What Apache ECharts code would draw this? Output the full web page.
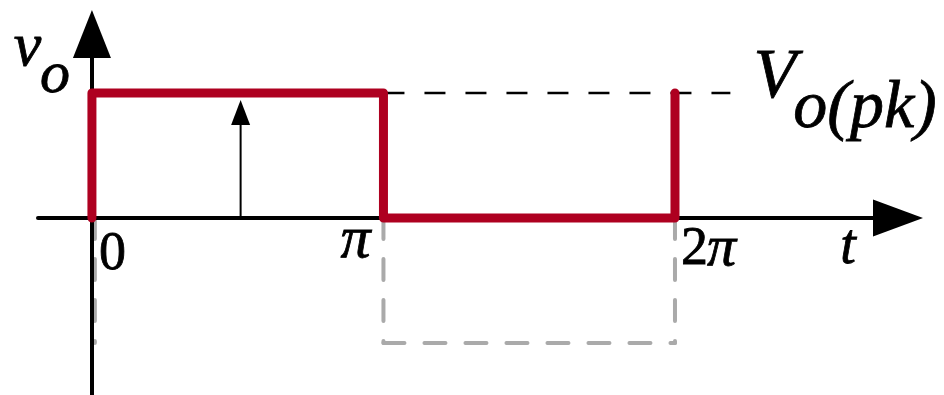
<!DOCTYPE html>
<html>
<head>
<meta charset="utf-8">
<script src="https://cdn.jsdelivr.net/npm/echarts@6/dist/echarts.min.js"></script>
<style>
  html, body { margin: 0; padding: 0; background: #fff; }
  #chart { width: 944px; height: 395px; }
</style>
</head>
<body>
<div id="chart"></div>
<script>
// Time axis is measured in multiples of π
const tickValues = [0, 1, 2];
const tickLabels = ['0', 'π', '2π'];
const xName = 't';
const yName = ['v', 'o'];
const peakName = ['V', 'o(pk)'];

const vPeak = 1;

// Output waveform: peak for the first half-cycle, zero for the second
const waveT = [0, 0, 1, 1, 2, 2];
const waveV = [0, 1, 1, 0, 0, 1];

// Dashed outline of the blocked negative half-cycle (one entry per segment)
const ghostT = [[0.01, 0.01], [1, 1], [1, 2], [2, 2]];
const ghostV = [[0, -1], [0, -1], [-1, -1], [0, -1]];

// Peak reference line
const peakLineT = [1, 2.19];

// Phasor arrow
const arrowT = 0.51;
const arrowV = [0, 0.944];

// Visible extent of the axes
const xRange = [-0.185, 2.765];
const yRange = [-1.416, 1.472];

const SERIF = '"Liberation Serif", "Times New Roman", serif';
const RED = '#AE0020';

// Text annotations: anchor in data space, pixel offset of the text centre
const textSpecs = [
  { at: [tickValues[0], 0], text: tickLabels[0], size: 54, italic: false, align: 'left', dx: 7, dy: 36.6 },
  { at: [tickValues[1], 0], text: tickLabels[1], size: 60, italic: true, align: 'center', dx: -28, dy: 23.6 },
  { at: [tickValues[2], 0], text: tickLabels[2].charAt(0), size: 54, italic: false, align: 'left', dx: 6, dy: 31.6 },
  { at: [tickValues[2], 0], text: tickLabels[2].charAt(1), size: 58, italic: true, align: 'left', dx: 32, dy: 31.6 },
  { at: [xRange[1], 0], text: xName, size: 56, italic: true, align: 'center', dx: -50, dy: 30 },
  { at: [0, vPeak], text: yName[0], size: 62, italic: true, align: 'center', dx: -64.5, dy: -44 },
  { at: [0, vPeak], text: yName[1], size: 60, italic: true, align: 'center', dx: -37, dy: -16.4 },
  { at: [2, vPeak], text: peakName[0], size: 70, italic: true, align: 'center', dx: 100, dy: -14 },
  { at: [2, vPeak], text: peakName[1], size: 68, italic: true, align: 'center', dx: 190, dy: 16 }
];

const ghostSeries = ghostT.map((ts, i) => ({
  type: 'line',
  z: 1,
  silent: true,
  showSymbol: false,
  symbol: 'none',
  data: ts.map((t, j) => [t, ghostV[i][j]]),
  lineStyle: { color: '#aaaaaa', width: 4, type: [21, 20], cap: 'round' }
}));

const chart = echarts.init(document.getElementById('chart'), null, { renderer: 'canvas' });

chart.setOption({
  animation: false,
  backgroundColor: '#ffffff',
  grid: { left: 38, right: 46, top: 34, bottom: 0, containLabel: false },
  xAxis: {
    type: 'value',
    min: xRange[0],
    max: xRange[1],
    z: 3,
    axisLine: {
      show: true,
      onZero: true,
      symbol: ['none', 'triangle'],
      symbolSize: [37, 50],
      lineStyle: { color: '#000', width: 4 }
    },
    axisTick: { show: false },
    axisLabel: { show: false },
    splitLine: { show: false }
  },
  yAxis: {
    type: 'value',
    min: yRange[0],
    max: yRange[1],
    z: 3,
    axisLine: {
      show: true,
      onZero: true,
      symbol: ['none', 'triangle'],
      symbolSize: [38, 48],
      lineStyle: { color: '#000', width: 4 }
    },
    axisTick: { show: false },
    axisLabel: { show: false },
    splitLine: { show: false }
  },
  series: [
    ...ghostSeries,
    {
      type: 'line',
      name: 'peak',
      z: 4,
      silent: true,
      symbol: 'none',
      data: peakLineT.map(t => [t, vPeak]),
      lineStyle: { color: '#000', width: 2.5, type: [21, 20] }
    },
    {
      type: 'custom',
      name: 'phasor',
      z: 4,
      silent: true,
      data: [[arrowT, arrowV[0], arrowV[1]]],
      renderItem: function (params, api) {
        const base = api.coord([api.value(0), api.value(1)]);
        const tip = api.coord([api.value(0), api.value(2)]);
        const headLen = 25, headHalf = 9.5;
        return {
          type: 'group',
          children: [
            {
              type: 'line',
              shape: { x1: base[0], y1: base[1], x2: tip[0], y2: tip[1] + headLen - 2 },
              style: { stroke: '#000', lineWidth: 2 }
            },
            {
              type: 'polygon',
              shape: { points: [[tip[0], tip[1]], [tip[0] - headHalf, tip[1] + headLen], [tip[0] + headHalf, tip[1] + headLen]] },
              style: { fill: '#000' }
            }
          ]
        };
      }
    },
    {
      type: 'line',
      name: 'vo',
      z: 5,
      silent: true,
      symbol: 'none',
      data: waveT.map((t, i) => [t, waveV[i]]),
      lineStyle: { color: RED, width: 9, cap: 'round', join: 'round' }
    },
    {
      type: 'custom',
      name: 'labels',
      z: 6,
      silent: true,
      clip: false,
      data: textSpecs.map((s, i) => [s.at[0], s.at[1], i]),
      renderItem: function (params, api) {
        const s = textSpecs[api.value(2)];
        const p = api.coord([api.value(0), api.value(1)]);
        return {
          type: 'text',
          x: p[0] + s.dx,
          y: p[1] + s.dy,
          style: {
            text: s.text,
            font: (s.italic ? 'italic ' : '') + s.size + 'px ' + SERIF,
            fill: '#000',
            stroke: '#000',
            lineWidth: 0.8,
            align: s.align,
            verticalAlign: 'middle'
          }
        };
      }
    }
  ]
});
</script>
</body>
</html>
